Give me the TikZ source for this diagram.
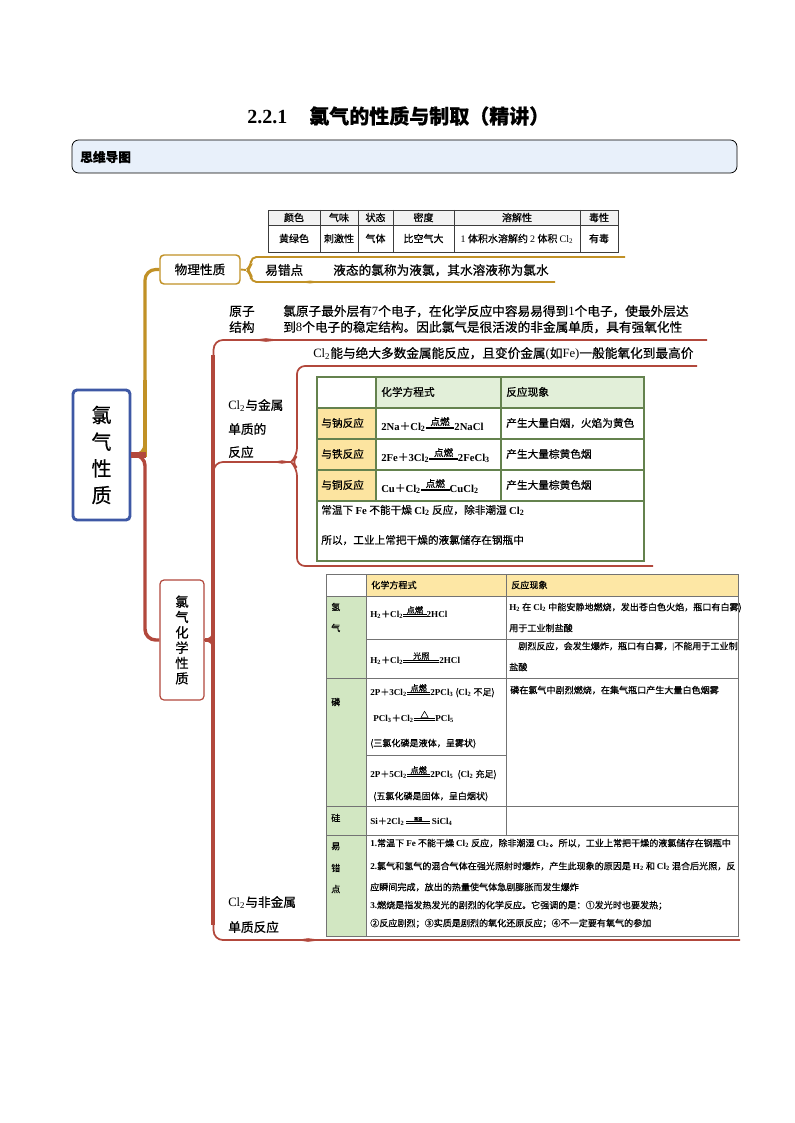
\documentclass[tikz,border=0pt]{standalone}
\usepackage{fontspec}
\setmainfont{Noto Sans CJK SC}[FakeBold=0.5]
\newfontfamily\tm{Liberation Serif}
\usetikzlibrary{calc}
\definecolor{goldc}{RGB}{193,145,38}
\definecolor{redc}{RGB}{178,72,60}
\definecolor{bluec}{RGB}{62,88,165}
\definecolor{hdrfill}{RGB}{232,240,250}
\definecolor{mgreen}{RGB}{226,239,217}
\definecolor{mgold}{RGB}{252,228,160}
\definecolor{mgrid}{RGB}{100,130,78}
\definecolor{ngold}{RGB}{253,231,165}
\definecolor{ngreen}{RGB}{210,231,194}
\definecolor{ngrid}{RGB}{115,115,115}
\definecolor{tgrid}{RGB}{60,60,60}
\newcommand{\fsz}[1]{\fontsize{#1}{#1}\selectfont}
\newcommand{\F}[1]{{\tm\bfseries #1}}
\newcommand{\dn}[1]{\textsubscript{#1}}
\newcommand{\cond}[2][2.4em]{\raisebox{0.12em}{\vbox{\hbox to #1{\hss\scalebox{0.9}{#2}\hss}\kern0.4pt\hrule width #1 height 0.35pt\kern0.9pt\hrule width #1 height 0.35pt}}}
\tikzset{
  t/.style={inner sep=0pt, anchor=west},
  tA/.style={t, font=\fsz{9.5}, text height=8.4pt, text depth=1.1pt},
  tM/.style={t, font=\fsz{8}, text height=7pt, text depth=1pt},
  tN/.style={t, font=\fsz{6.8}, text height=6pt, text depth=0.8pt},
  tT/.style={inner sep=0pt, anchor=center, font=\fsz{7.5}, text height=6.6pt, text depth=0.9pt},
  mainbox/.style={draw=bluec, line width=2.2pt, rounded corners=3pt, minimum width=42.75pt, minimum height=97.5pt, align=center, font=\fsz{15}, inner sep=0pt},
  physbox/.style={draw=goldc, line width=1.1pt, rounded corners=3pt, minimum width=60pt, minimum height=21.75pt, font=\fsz{9.5}, inner sep=0pt},
  chembox/.style={draw=redc, line width=0.9pt, rounded corners=3pt, minimum width=33pt, minimum height=90pt, align=center, font=\fsz{10}, inner sep=0pt},
  gthick/.style={draw=goldc, line width=2.4pt, rounded corners=8},
  gthin/.style={draw=goldc, line width=1.4pt, rounded corners=4},
  rthick/.style={draw=redc, line width=2.6pt, rounded corners=8},
  rthin/.style={draw=redc, line width=1.3pt, rounded corners=7},
  leafr/.style={fill=redc},
  leafg/.style={fill=goldc},
}
\begin{document}
\begin{tikzpicture}[x=0.75pt,y=-0.75pt]
\useasboundingbox (0,0) rectangle (794,1123);
\fill[white] (0,0) rectangle (794,1123);

% title and header
\node[t, font=\fsz{15}] (title) at (247,116) {\F{2.2.1}\hspace{1.1em}\bfseries 氯气的性质与制取（精讲）};
\draw[fill=hdrfill, draw=black, line width=0.6pt, rounded corners=5pt] (72,140) rectangle (737,173);
\node[t, font=\fsz{9.5}\bfseries] (hdr) at (80,157) {思维导图};

% top table
\fill[gray!10] (268,210) rectangle (618,225);
\draw[tgrid, line width=0.6pt] (268,210) rectangle (618,252);
\draw[tgrid, line width=0.5pt] (268,225) -- (618,225);
\foreach \x in {320,358,393,454,580} \draw[tgrid, line width=0.5pt] (\x,210) -- (\x,252);
\node[tT] (h1) at (294,217.5) {颜色};
\node[tT] (h2) at (339,217.5) {气味};
\node[tT] (h3) at (375.5,217.5) {状态};
\node[tT] (h4) at (423.5,217.5) {密度};
\node[tT] (h5) at (517,217.5) {溶解性};
\node[tT] (h6) at (599,217.5) {毒性};
\node[tT] (v1) at (294,238.5) {黄绿色};
\node[tT] (v2) at (339,238.5) {刺激性};
\node[tT] (v3) at (375.5,238.5) {气体};
\node[tT] (v4) at (423.5,238.5) {比空气大};
\node[tT] (v5) at (517,238.5) {{\tm 1} 体积水溶解约 {\tm 2} 体积 {\tm Cl\dn{2}}};
\node[tT] (v6) at (599,238.5) {有毒};

% main nodes
\node[mainbox] (main) at (101.5,455) {氯\\[5pt]气\\[5pt]性\\[5pt]质};
\node[physbox] (phys) at (200,269.5) {物理性质};
\node[chembox] (chem) at (182,640) {氯\\[1.5pt]气\\[1.5pt]化\\[1.5pt]学\\[1.5pt]性\\[1.5pt]质};

% gold branch
\draw[gthick] (main.east) -- (145,455) -- (145,269.5) -- (phys.west);
\draw[goldc, line width=3.6pt] (140,455) -- (145,455) -- (145,380);
\coordinate (gTop) at (625,257);
\coordinate (gBot) at (555,282);
\draw[gthin] (phys.east) -- (246,270);
\draw[gthin] (gTop) -- (251,257) -- (251,266) -- (246,270) -- (251,274) -- (251,282) -- (gBot);
\fill[leafg] (298,282) -- (310,280.6) -- (322,282) -- (310,283.4) -- cycle;
\node[tA] (ycd) at (265,270) {易错点};
\node[tA] (ycdT) at (333,270) {液态的氯称为液氯，其水溶液称为氯水};

% red branch to chem
\draw[rthick] (main.east) -- (145,455) -- (145,640) -- (chem.west);
\draw[redc, line width=4pt] (main.east) -- (146,455);

% chem branches
\coordinate (atomEnd) at (707,340);
\coordinate (nmEnd) at (740,940);
\coordinate (mNub) at (291,462);
\coordinate (mTop) at (697,366);
\coordinate (mBot) at (653,566);
\draw[rthin] (chem.east) -- ++(9,0) |- (atomEnd);
\draw[rthin] (chem.east) -- ++(9,0) |- (nmEnd);
\draw[rthin] (chem.east) ++(9,0) |- (mNub);
\draw[redc, line width=2.8pt] (213,355) -- (213,925);
\draw[redc, line width=2.6pt] (chem.east) -- (213,640);
\draw[rthin, rounded corners=6] (mTop) -- (297,366) -- (297,456) -- (mNub) -- (297,468) -- (297,566) -- (mBot);
\fill[leafr] (252,340) -- (266,338.2) -- (281,340) -- (266,341.8) -- cycle;
\fill[leafr] (272,462) -- (282,460.3) -- (292,462) -- (282,463.7) -- cycle;
\fill[leafr] (296,940) -- (308,938.2) -- (322,940) -- (308,941.8) -- cycle;

% atom structure
\node[tA] (atomA) at (229,311) {原子};
\node[tA] (atomB) at (229,327) {结构};
\node[tA] (atomT1) at (283,311) {氯原子最外层有{\tm 7}个电子，在化学反应中容易易得到{\tm 1}个电子，使最外层达};
\node[tA] (atomT2) at (283,327) {到{\tm 8}个电子的稳定结构。因此氯气是很活泼的非金属单质，具有强氧化性};
\node[tA] (metIntro) at (313,353) {{\tm Cl\dn{2}}能与绝大多数金属能反应，且变价金属{\tm (}如{\tm Fe)}一般能氧化到最高价};
\node[tA] (metA) at (228,405) {{\tm Cl\dn{2}}与金属};
\node[tA] (metB) at (228,429) {单质的};
\node[tA] (metC) at (228,452) {反应};
\node[tA] (nmA) at (228,902) {{\tm Cl\dn{2}}与非金属};
\node[tA] (nmB) at (228,927) {单质反应};

% metal table
\fill[mgreen] (376,377) rectangle (644,408);
\fill[mgold] (317,408) rectangle (376,501);
\draw[mgrid, line width=1pt] (317,377) rectangle (644,561);
\foreach \y in {408,439,470,501} \draw[mgrid, line width=1pt] (317,\y) -- (644,\y);
\foreach \x in {376,501} \draw[mgrid, line width=1pt] (\x,377) -- (\x,501);
\node[tM] (mh1) at (381,392) {化学方程式};
\node[tM] (mh2) at (506,392) {反应现象};
\node[tM] (ml1) at (321,423) {与钠反应};
\node[tM] (ml2) at (321,454) {与铁反应};
\node[tM] (ml3) at (321,485) {与铜反应};
\node[tM] (me1) at (381,426) {\F{2Na}＋\F{Cl\dn{2}}\cond[2.7em]{点燃}\F{2NaCl}};
\node[tM] (me2) at (381,457) {\F{2Fe}＋\F{3Cl\dn{2}}\cond[2.7em]{点燃}\F{2FeCl\dn{3}}};
\node[tM] (me3) at (381,488) {\F{Cu}＋\F{Cl\dn{2}}\cond[2.7em]{点燃}\F{CuCl\dn{2}}};
\node[tM] (mp1) at (506,423) {产生大量白烟，火焰为黄色};
\node[tM] (mp2) at (506,454) {产生大量棕黄色烟};
\node[tM] (mp3) at (506,485) {产生大量棕黄色烟};
\node[tM] (mn1) at (321,510) {常温下 \F{Fe} 不能干燥 \F{Cl\dn{2}} 反应，除非潮湿 \F{Cl\dn{2}}};
\node[tM] (mn2) at (321,540) {所以，工业上常把干燥的液氯储存在钢瓶中};

% nonmetal table
\fill[ngold] (366,574) rectangle (738,596);
\fill[ngreen] (326,596) rectangle (366,936);
\draw[ngrid, line width=0.6pt] (326,574) rectangle (738,936);
\draw[ngrid, line width=0.6pt] (326,596) -- (738,596);
\draw[ngrid, line width=0.6pt] (366,639) -- (738,639);
\draw[ngrid, line width=0.6pt] (326,678) -- (738,678);
\draw[ngrid, line width=0.6pt] (366,755) -- (506,755);
\draw[ngrid, line width=0.6pt] (326,806) -- (738,806);
\draw[ngrid, line width=0.6pt] (326,835) -- (738,835);
\draw[ngrid, line width=0.6pt] (366,574) -- (366,936);
\draw[ngrid, line width=0.6pt] (506,574) -- (506,835);
\node[tN] (nh1) at (371,585) {化学方程式};
\node[tN] (nh2) at (511,585) {反应现象};
\node[tN] (nl1) at (331,607) {氢};
\node[tN] (nl2) at (331,628) {气};
\node[tN] (ne1) at (370,614) {\F{H\dn{2}}＋\F{Cl\dn{2}}\cond[2.6em]{点燃}\F{2HCl}};
\node[tN] (np1) at (509,607) {\F{H\dn{2}} 在 \F{Cl\dn{2}} 中能安静地燃烧，发出苍白色火焰，瓶口有白雾)};
\node[tN] (np1b) at (509,628) {用于工业制盐酸};
\node[tN] (ne2) at (370,660) {\F{H\dn{2}}＋\F{Cl\dn{2}}\cond[4em]{光照}\F{2HCl}};
\node[tN] (np2) at (509,646) {　剧烈反应，会发生爆炸，瓶口有白雾，{\tm |}不能用于工业制};
\node[tN] (np2b) at (509,667) {盐酸};
\node[tN] (nl3) at (331,702) {磷};
\node[tN] (ne3) at (370,692) {\F{2P}＋\F{3Cl\dn{2}}\cond[2.6em]{点燃}\F{2PCl\dn{3}} (\F{Cl\dn{2}} 不足)};
\node[tN] (ne4) at (373,718) {\F{PCl\dn{3}}＋\F{Cl\dn{2}}\cond[2.4em]{△}\F{PCl\dn{5}}};
\node[tN] (ne5) at (370,743) {(三氯化磷是液体，呈雾状)};
\node[tN] (ne6) at (370,774) {\F{2P}＋\F{5Cl\dn{2}}\cond[2.6em]{点燃}\F{2PCl\dn{5}}\ \ (\F{Cl\dn{2}} 充足)};
\node[tN] (ne7) at (373,796) {(五氯化磷是固体，呈白烟状)};
\node[tN] (np3) at (510,690) {磷在氯气中剧烈燃烧，在集气瓶口产生大量白色烟雾};
\node[tN] (nl4) at (331,818) {硅};
\node[tN] (ne8) at (370,821) {\F{Si}＋\F{2Cl\dn{2}}\ \cond[2.6em]{\fsz{3.5}高温}\ \F{SiCl\dn{4}}};
\node[tN] (nl5) at (331,846) {易};
\node[tN] (nl6) at (331,868) {错};
\node[tN] (nl7) at (331,889) {点};
\node[tN] (ni1) at (370,843) {\F{1.}常温下 \F{Fe} 不能干燥 \F{Cl\dn{2}} 反应，除非潮湿 \F{Cl\dn{2}}。所以，工业上常把干燥的液氯储存在钢瓶中};
\node[tN] (ni2) at (370,866) {\F{2.}氯气和氢气的混合气体在强光照射时爆炸，产生此现象的原因是 \F{H\dn{2}} 和 \F{Cl\dn{2}} 混合后光照，反};
\node[tN] (ni3) at (370,887) {应瞬间完成，放出的热量使气体急剧膨胀而发生爆炸};
\node[tN] (ni4) at (370,905) {\F{3.}燃烧是指发热发光的剧烈的化学反应。它强调的是：①发光时也要发热；};
\node[tN] (ni5) at (370,923) {②反应剧烈；③实质是剧烈的氧化还原反应；④不一定要有氧气的参加};
\end{tikzpicture}
\end{document}
